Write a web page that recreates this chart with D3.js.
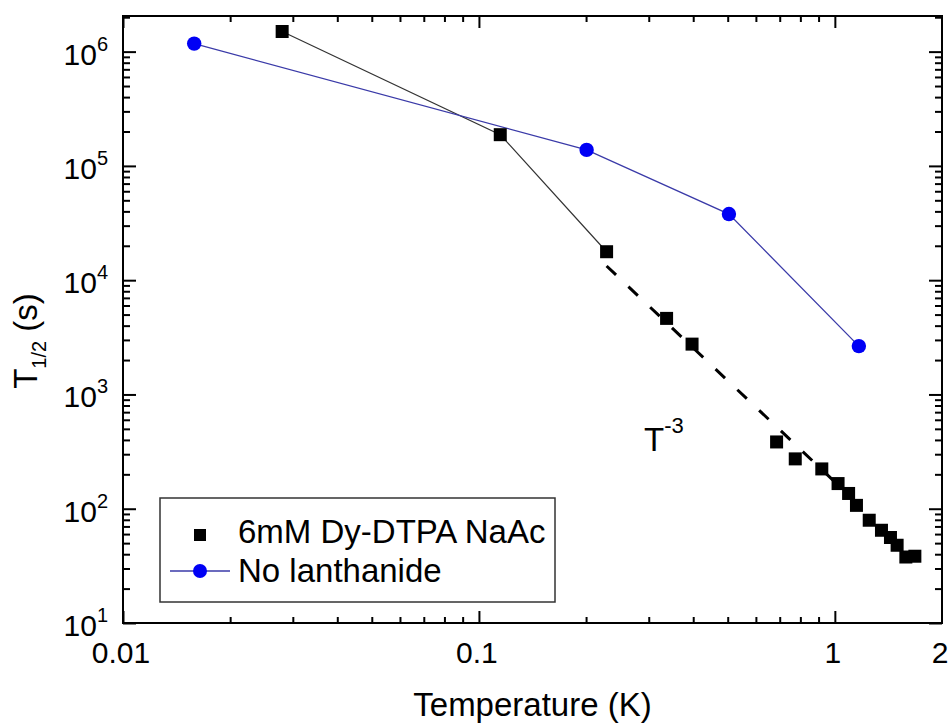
<!DOCTYPE html>
<html><head><meta charset="utf-8">
<script src="https://cdn.jsdelivr.net/npm/d3@7"></script>
<style>body{margin:0;background:#fff}svg{display:block}text{font-family:"Liberation Sans",Arial,sans-serif;fill:#000}</style>
</head><body><svg id="c" width="950" height="724"></svg>
<script>
// Data
const dyTemp = [0.028, 0.1148, 0.2284, 0.3367, 0.397, 0.686, 0.774, 0.919, 1.021, 1.093, 1.15, 1.249, 1.352, 1.433, 1.496, 1.583, 1.678];
const dyT12  = [1.50e6, 1.876e5, 1.774e4, 4630, 2757, 384, 273, 223, 166, 136, 107, 79.3, 64.8, 56, 47.9, 37.8, 38.4];
const noLnTemp = [0.01585, 0.2007, 0.504, 1.168];
const noLnT12  = [1.175e6, 1.38e5, 3.79e4, 2650];
const fitTemp = [0.2284, 1.033];
const fitT12  = [13300, 155.8];
const xTickVals = [0.01, 0.1, 1, 2];
const xTickLabels = ["0.01", "0.1", "1", "2"];
const yTickExps = [1, 2, 3, 4, 5, 6];
const legendLabels = ["6mM Dy-DTPA NaAc", "No lanthanide"];

const svg = d3.select("#c");
const L = 123, R = 942, T = 16, B = 623;
const x = d3.scaleLog().domain([0.01, 2]).range([L, R]);
const y = d3.scaleLog().domain([10, 2.05e6]).range([B, T]);

// minor tick values
const xMinor = [];
for (const d of [0.01, 0.1]) for (let k = 2; k <= 9; k++) xMinor.push(d * k);
const yMinor = [];
for (let e = 1; e <= 6; e++) for (let k = 2; k <= 9; k++) { const v = k * Math.pow(10, e); if (v <= 2.05e6) yMinor.push(v); }

const g = svg.append("g");
const axB = g.append("g").attr("transform", `translate(0,${B})`);
axB.call(d3.axisTop(x).tickValues([0.01, 0.1, 1]).tickSize(12).tickFormat(""));
axB.append("g").call(d3.axisTop(x).tickValues(xMinor).tickSize(6).tickFormat(""));
const axT = g.append("g").attr("transform", `translate(0,${T})`);
axT.call(d3.axisBottom(x).tickValues([0.01, 0.1, 1]).tickSize(12).tickFormat(""));
axT.append("g").call(d3.axisBottom(x).tickValues(xMinor).tickSize(6).tickFormat(""));
const yMajor = yTickExps.map(e => Math.pow(10, e));
const axL = g.append("g").attr("transform", `translate(${L},0)`);
axL.call(d3.axisRight(y).tickValues(yMajor).tickSize(13).tickFormat(""));
axL.append("g").call(d3.axisRight(y).tickValues(yMinor).tickSize(7).tickFormat(""));
const axR = g.append("g").attr("transform", `translate(${R},0)`);
axR.call(d3.axisLeft(y).tickValues(yMajor).tickSize(13).tickFormat(""));
axR.append("g").call(d3.axisLeft(y).tickValues(yMinor).tickSize(7).tickFormat(""));
g.selectAll(".domain").remove();
g.selectAll(".tick line").attr("stroke", "#000").attr("stroke-width", 2);

// frame
svg.append("rect").attr("x", L).attr("y", T).attr("width", R - L).attr("height", B - T)
  .attr("fill", "none").attr("stroke", "#000").attr("stroke-width", 2);

// x tick labels
svg.selectAll(".xl").data(xTickVals).enter().append("text")
  .attr("x", d => x(d) - 2).attr("y", 663).attr("text-anchor", "middle")
  .attr("font-size", 30).text((d, i) => xTickLabels[i]);

// y tick labels
yTickExps.forEach(e => {
  const t = svg.append("text").attr("x", 108).attr("y", y(Math.pow(10, e)) + 13)
    .attr("text-anchor", "end").attr("font-size", 30);
  t.append("tspan").text("10");
  t.append("tspan").attr("dy", -14).attr("font-size", 20).text(String(e));
});

// axis titles
svg.append("text").attr("x", (L + R) / 2).attr("y", 716).attr("text-anchor", "middle")
  .attr("font-size", 33).text("Temperature (K)");
const yt = svg.append("text").attr("transform", "translate(37,341) rotate(-90)")
  .attr("text-anchor", "middle").attr("font-size", 33);
yt.append("tspan").text("T");
yt.append("tspan").attr("dy", 9).attr("font-size", 20).text("1/2");
yt.append("tspan").attr("dy", -9).text(" (s)");

// annotation T^-3
const an = svg.append("text").attr("x", x(0.291)).attr("y", 451).attr("font-size", 33);
an.append("tspan").text("T");
an.append("tspan").attr("dy", -18).attr("font-size", 22).text("-3");

// lines
const line = d3.line().x(d => x(d[0])).y(d => y(d[1]));
const dyPts = dyTemp.map((t, i) => [t, dyT12[i]]);
const noPts = noLnTemp.map((t, i) => [t, noLnT12[i]]);
const fitPts = fitTemp.map((t, i) => [t, fitT12[i]]);
svg.append("path").attr("d", line(dyPts.slice(0, 3))).attr("fill", "none").attr("stroke", "#333").attr("stroke-width", 1.2);
svg.append("path").attr("d", line(fitPts)).attr("fill", "none").attr("stroke", "#000").attr("stroke-width", 3).attr("stroke-dasharray", "13,17");
svg.append("path").attr("d", line(noPts)).attr("fill", "none").attr("stroke", "#3a3aa8").attr("stroke-width", 1.3);

// markers
svg.selectAll(".sq").data(dyPts).enter().append("rect")
  .attr("x", d => x(d[0]) - 6.5).attr("y", d => y(d[1]) - 6.5).attr("width", 13).attr("height", 13).attr("fill", "#000");
svg.selectAll(".ci").data(noPts).enter().append("circle")
  .attr("cx", d => x(d[0])).attr("cy", d => y(d[1])).attr("r", 7.2).attr("fill", "#0000f5");

// legend
svg.append("rect").attr("x", 160).attr("y", 498).attr("width", 395).attr("height", 104)
  .attr("fill", "#fff").attr("stroke", "#333").attr("stroke-width", 1.5);
svg.append("rect").attr("x", 194).attr("y", 529).attr("width", 12).attr("height", 12).attr("fill", "#000");
svg.append("line").attr("x1", 170).attr("x2", 230).attr("y1", 571).attr("y2", 571).attr("stroke", "#3a3aa8").attr("stroke-width", 1.3);
svg.append("circle").attr("cx", 200).attr("cy", 571).attr("r", 7).attr("fill", "#0000f5");
svg.append("text").attr("x", 238).attr("y", 543).attr("font-size", 33).text(legendLabels[0]);
svg.append("text").attr("x", 238).attr("y", 582).attr("font-size", 33).text(legendLabels[1]);
</script></body></html>
